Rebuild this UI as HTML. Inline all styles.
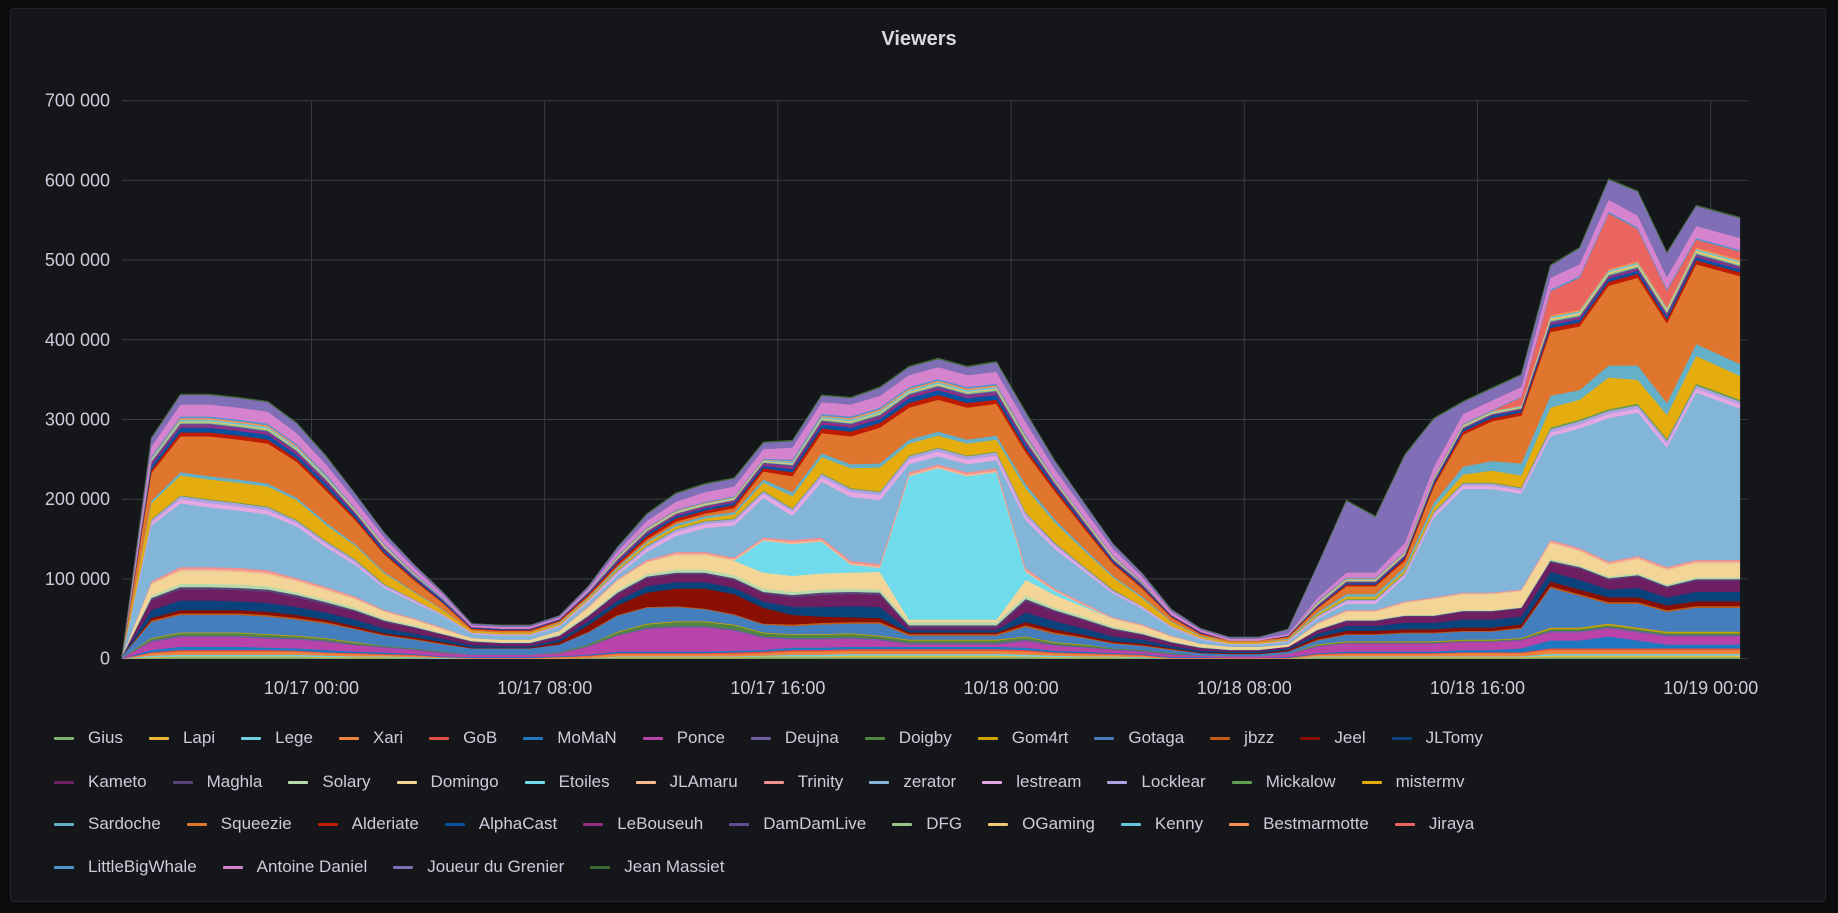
<!DOCTYPE html>
<html><head><meta charset="utf-8"><title>Viewers</title>
<style>
html,body{margin:0;padding:0;background:#0b0c0e;}
body{width:1838px;height:913px;position:relative;overflow:hidden;font-family:"Liberation Sans",sans-serif;}
#panel{position:absolute;left:10px;top:8px;width:1816px;height:894px;background:#141619;border:1px solid #24262b;border-radius:3px;box-sizing:border-box;}
#chart{position:absolute;left:0;top:0;}
.lrow{position:absolute;left:54px;display:flex;white-space:nowrap;height:24px;align-items:center;}
.li{display:flex;align-items:center;margin-right:26px;color:#ccccdc;font-size:17px;}
.dash{width:20px;height:3px;border-radius:1px;margin-right:14px;}
</style></head>
<body>
<div id="panel"></div>
<svg id="chart" width="1838" height="913">
  <text x="919" y="45" text-anchor="middle" fill="#d8d9da" font-size="20" font-weight="bold" font-family="Liberation Sans, sans-serif">Viewers</text>
  <g id="grid"></g>
  <g id="areas"></g>
  <g id="yaxis"></g>
  <g id="xaxis"></g>
</svg>
<div id="legend"></div>
<script>
const hours = [0,1,2,3,4,5,6,7,8,9,10,11,12,13,14,15,16,17,18,19,20,21,22,23,24,25,26,27,28,29,30,31,32,33,34,35,36,37,38,39,40,41,42,43,44,45,46,47,48,49,50,51,52,53,54,55.5];
const yTicks = [0,100,200,300,400,500,600,700];
const yTickLabels = ["0","100 000","200 000","300 000","400 000","500 000","600 000","700 000"];
const xTickHours = [6.5,14.5,22.5,30.5,38.5,46.5,54.5];
const xTickLabels = ["10/17 00:00","10/17 08:00","10/17 16:00","10/18 00:00","10/18 08:00","10/18 16:00","10/19 00:00"];
const seriesNames = ["Gius","Lapi","Lege","Xari","GoB","MoMaN","Ponce","Deujna","Doigby","Gom4rt","Gotaga","jbzz","Jeel","JLTomy","Kameto","Maghla","Solary","Domingo","Etoiles","JLAmaru","Trinity","zerator","lestream","Locklear","Mickalow","mistermv","Sardoche","Squeezie","Alderiate","AlphaCast","LeBouseuh","DamDamLive","DFG","OGaming","Kenny","Bestmarmotte","Jiraya","LittleBigWhale","Antoine Daniel","Joueur du Grenier","Jean Massiet"];
const seriesColors = ["#7EB26D","#EAB839","#6ED0E0","#EF843C","#E24D42","#1F78C1","#BA43A9","#705DA0","#508642","#CCA300","#447EBC","#C15C17","#890F02","#0A437C","#6D1F62","#584477","#B7DBAB","#F4D598","#70DBED","#F9BA8F","#F29191","#82B5D8","#E5A8E2","#AEA2E0","#629E51","#E5AC0E","#64B0C8","#E0752D","#BF1B00","#0A50A1","#962D82","#614D93","#9AC48A","#F2C96D","#65C5DB","#F9934E","#EA6460","#5195CE","#D683CE","#806EB7","#3F6833"];
// values in thousands of viewers
const Gius = [0,1,2,2,2,2,2,1, 1,1,1,0,0,0,0,0, 1,1,1,1,1,1,2,2, 2,2,2,2,2,2,2,2, 1,1,1,1,0,0,0,0, 0,1,1,1,1,1,1,1, 1,2,2,2,2,2,2,2];
const Lapi = [0,1,1,1,1,1,1,1, 1,1,0,0,0,0,0,0, 0,1,1,1,1,1,1,1, 1,2,2,2,2,2,2,1, 1,1,1,0,0,0,0,0, 0,1,1,1,1,1,1,1, 1,2,2,2,2,2,2,2];
const Lege = [0,2,2,2,2,2,2,2, 1,1,1,1,0,0,0,0, 0,1,1,1,1,1,1,2, 2,2,2,2,2,2,2,2, 2,1,1,1,0,0,0,0, 0,1,1,1,1,1,1,1, 1,2,2,2,2,2,2,2];
const Xari = [0,3,4,4,4,4,4,3, 3,2,2,1,1,1,1,2, 2,3,3,3,3,3,3,4, 4,4,4,4,4,4,4,4, 3,3,2,2,1,1,1,1, 1,2,3,3,3,3,4,4, 4,5,5,5,5,5,5,5];
const GoB = [0,1,2,2,2,2,1,1, 1,1,1,0,0,0,0,0, 1,1,1,1,1,2,2,2, 2,2,2,2,2,2,2,2, 1,1,1,1,0,0,0,0, 0,1,1,1,1,1,1,1, 1,2,2,2,2,2,2,2];
const MoMaN = [0,3,4,4,4,3,3,3, 2,2,1,1,1,1,1,1, 1,2,2,2,2,2,2,3, 3,3,3,3,3,3,3,3, 2,2,1,1,1,1,0,0, 1,1,2,2,2,2,3,3, 5,10,10,15,10,5,5,5];
const Ponce = [1,10,12,12,12,11,11,10, 8,6,5,4,3,3,3,4, 10,20,28,30,30,25,15,10, 10,10,8,3,3,3,3,8, 6,5,4,3,3,2,2,2, 4,8,10,10,10,10,10,10, 10,10,10,10,10,10,10,10];
const Deujna = [0,2,2,2,2,2,2,2, 1,1,1,1,0,0,0,0, 1,1,2,2,2,2,2,2, 2,2,2,2,2,2,2,2, 2,1,1,1,1,0,0,0, 0,1,1,1,1,1,1,1, 1,2,2,2,2,2,2,2];
const Doigby = [0,2,3,3,3,3,2,2, 2,1,1,1,0,0,0,1, 2,3,4,5,5,5,4,4, 4,4,3,3,3,3,3,3, 2,2,1,1,1,0,0,0, 0,1,1,1,1,1,1,1, 1,2,2,2,2,2,2,2];
const Gom4rt = [0,1,1,1,1,1,1,1, 1,0,0,0,0,0,0,0, 0,1,1,1,1,1,1,1, 1,1,1,1,1,1,1,1, 1,1,0,0,0,0,0,0, 0,1,1,1,1,1,1,1, 1,2,2,2,2,2,2,2];
const Gotaga = [2,20,22,22,22,22,20,18, 16,13,11,9,8,8,8,10, 15,20,20,18,15,12,10,10, 12,12,15,5,5,5,5,12, 10,8,6,5,4,3,3,3, 3,5,8,8,10,10,10,10, 12,50,40,25,30,25,30,30];
const jbzz = [0,2,2,2,2,2,2,2, 1,1,1,1,0,0,0,0, 1,1,1,1,1,1,1,2, 2,2,2,2,2,2,2,2, 2,1,1,1,1,0,0,0, 0,1,1,1,1,1,1,1, 1,2,2,2,2,2,2,2];
const Jeel = [0,3,4,4,4,4,4,3, 3,2,2,2,1,1,1,3, 8,12,18,22,25,25,20,12, 8,6,5,2,2,2,2,4, 4,3,2,2,1,1,1,1, 2,3,4,4,4,4,4,4, 4,6,6,6,6,6,6,6];
const JLTomy = [0,10,12,12,11,11,10,9, 8,6,5,4,3,2,2,3, 5,6,8,8,8,8,8,10, 12,14,14,3,3,3,3,12, 10,8,6,5,3,2,2,2, 2,4,6,6,8,8,10,10, 10,12,12,10,12,10,12,12];
const Kameto = [0,12,14,14,14,14,12,10, 10,8,7,5,4,3,3,4, 6,8,10,10,10,10,10,12, 15,15,15,3,3,3,3,14, 12,10,8,6,4,3,2,2, 2,4,6,6,8,8,10,10, 10,12,14,12,14,12,14,14];
const Maghla = [0,3,3,3,3,3,3,3, 2,2,1,1,1,1,1,1, 1,2,2,2,2,2,2,3, 3,3,3,3,3,3,3,3, 2,2,2,1,1,1,0,0, 0,1,1,1,1,1,1,1, 1,2,2,2,2,2,2,2];
const Solary = [0,3,4,4,4,4,3,3, 3,2,2,1,1,1,1,2, 2,3,3,4,4,4,4,4, 4,4,4,4,4,4,4,4, 3,3,2,2,1,1,1,1, 0,1,1,1,1,1,1,1, 1,2,2,2,2,2,2,2];
const Domingo = [0,14,16,16,16,15,14,12, 11,9,7,5,3,3,3,4, 8,12,15,18,18,18,20,20, 20,20,22,3,3,3,3,20, 16,12,10,8,6,4,3,3, 3,6,10,10,15,20,20,20, 20,20,18,15,18,18,18,18];
const Etoiles = [0,0,0,0,0,0,0,0, 0,0,0,0,0,0,0,0, 0,0,0,0,0,0,40,40, 40,10,5,180,190,180,185,10, 5,2,0,0,0,0,0,0, 0,0,0,0,0,0,0,0, 0,0,0,0,0,0,0,0];
const JLAmaru = [0,2,2,2,2,2,2,2, 1,1,1,1,0,0,0,0, 1,1,1,2,2,2,2,2, 2,2,2,2,2,2,2,2, 1,1,1,1,0,0,0,0, 0,1,1,1,1,1,1,1, 1,2,2,2,2,2,2,2];
const Trinity = [0,2,3,3,3,3,2,2, 2,1,1,1,0,0,0,0, 1,1,2,2,2,2,2,3, 3,3,3,3,3,3,3,3, 2,2,1,1,1,0,0,0, 0,1,1,1,1,1,1,1, 1,2,2,2,2,2,2,2];
const zerator = [0,70,80,75,72,70,65,50, 40,28,20,15,5,5,5,5, 5,5,10,20,30,40,50,30, 70,80,80,10,10,10,10,60, 50,40,30,20,10,5,3,3, 3,5,8,8,30,100,130,130, 120,130,150,180,180,150,210,190];
const lestream = [0,4,5,5,5,5,4,4, 3,2,2,1,1,1,1,1, 2,3,4,5,5,5,5,6, 6,6,6,6,6,6,6,5, 4,3,2,2,1,1,1,1, 1,2,3,3,3,4,4,4, 4,5,5,5,5,5,5,5];
const Locklear = [0,3,4,4,4,4,3,3, 3,2,2,1,1,1,1,1, 1,2,3,3,3,3,3,3, 4,4,4,4,4,4,4,4, 3,2,2,1,1,1,0,0, 1,1,2,2,2,3,3,3, 3,4,4,4,4,4,4,4];
const Mickalow = [0,1,1,1,1,1,1,1, 1,1,0,0,0,0,0,0, 0,1,1,1,1,1,1,1, 1,1,1,1,1,1,1,1, 1,1,1,0,0,0,0,0, 0,1,1,1,1,1,1,1, 1,2,2,2,2,2,2,2];
const mistermv = [0,20,25,25,25,25,25,20, 17,13,9,5,2,2,2,2, 2,2,3,3,3,5,10,15, 20,25,30,15,15,15,15,30, 25,20,15,10,5,2,2,2, 1,2,3,3,3,5,10,15, 15,25,25,40,30,30,35,30];
const Sardoche = [0,3,4,4,4,4,3,3, 2,2,1,1,0,0,0,1, 1,2,2,3,3,3,4,5, 5,5,5,5,5,5,5,5, 4,3,2,2,1,1,0,0, 1,2,3,3,4,6,10,12, 15,15,12,15,18,15,15,15];
const Squeezie = [0,35,45,50,50,50,45,40, 30,22,14,8,2,2,2,2, 2,2,3,3,3,5,10,20, 25,35,45,40,40,40,40,40, 35,25,15,10,5,2,2,2, 2,5,10,10,8,20,40,50, 60,80,80,100,110,100,100,110];
const Alderiate = [0,4,5,5,5,5,4,4, 3,2,2,1,1,1,1,1, 2,3,4,4,4,4,4,5, 6,6,6,6,6,6,5,5, 4,3,2,2,1,1,0,0, 1,1,2,2,3,3,4,4, 4,5,5,5,5,5,5,5];
const AlphaCast = [0,5,6,6,6,6,5,5, 4,3,2,2,1,1,1,1, 1,2,3,3,3,3,3,4, 5,5,5,6,6,6,6,5, 4,3,2,2,1,1,0,0, 1,1,2,2,2,3,3,3, 3,4,4,4,4,4,4,4];
const LeBouseuh = [0,3,3,3,3,3,3,3, 2,2,1,1,1,1,1,1, 1,2,2,2,2,2,2,3, 3,3,3,3,3,3,3,3, 2,2,1,1,1,1,0,0, 0,1,1,1,1,1,1,1, 1,2,2,2,2,2,2,2];
const DamDamLive = [0,2,2,2,2,2,2,2, 1,1,1,1,0,0,0,0, 1,1,1,1,1,1,2,2, 2,2,2,2,2,2,2,2, 1,1,1,1,0,0,0,0, 0,1,1,1,1,1,1,1, 1,2,2,2,2,2,2,2];
const DFG = [0,1,2,2,2,2,1,1, 1,1,1,0,0,0,0,0, 0,1,1,1,1,1,1,1, 2,2,2,2,2,2,2,1, 1,1,1,0,0,0,0,0, 0,1,1,1,1,1,1,1, 1,2,2,2,2,2,2,2];
const OGaming = [0,1,1,1,1,1,1,1, 1,1,0,0,0,0,0,0, 0,1,1,1,1,1,1,1, 1,1,1,1,1,1,1,1, 1,1,1,0,0,0,0,0, 0,1,1,1,1,1,1,1, 1,2,2,2,2,2,2,2];
const Kenny = [0,2,2,2,2,2,2,2, 1,1,1,1,0,0,0,0, 1,1,1,1,1,1,1,2, 2,2,2,2,2,2,2,2, 1,1,1,1,0,0,0,0, 0,1,1,1,1,1,1,1, 1,2,2,2,2,2,2,2];
const Bestmarmotte = [0,1,2,2,2,2,2,1, 1,1,1,0,0,0,0,0, 0,1,1,1,1,1,1,1, 1,2,2,2,2,2,2,2, 1,1,1,1,0,0,0,0, 0,1,1,1,1,1,1,1, 1,2,2,2,2,2,2,2];
const Jiraya = [0,0,0,0,0,0,0,0, 0,0,0,0,0,0,0,0, 0,0,0,0,0,0,0,0, 0,0,0,0,0,0,0,0, 0,0,0,0,0,0,0,0, 0,0,0,0,0,0,0,0, 10,30,40,70,40,20,10,10];
const LittleBigWhale = [0,2,2,2,2,2,2,2, 1,1,1,1,0,0,0,0, 0,1,1,1,1,1,1,2, 2,2,2,2,2,2,2,2, 1,1,1,1,0,0,0,0, 0,1,1,1,1,1,1,1, 1,2,2,2,2,2,2,2];
const AntoineDaniel = [0,12,15,15,15,15,14,12, 10,8,6,4,2,2,2,2, 3,5,8,10,12,12,12,15, 15,15,15,15,15,15,15,15, 12,10,8,6,4,2,2,2, 2,4,6,6,10,12,12,12, 12,15,15,15,15,15,15,15];
const JoueurDuGrenier = [0,10,12,12,12,12,12,10, 8,6,4,3,2,2,2,2, 3,5,8,10,10,10,8,8, 8,8,10,10,10,10,12,12, 10,8,6,4,3,2,2,2, 6,40,90,70,110,60,15,15, 15,15,20,25,30,30,25,25];
const JeanMassiet = [0,1,1,1,1,1,1,1, 0,0,0,0,0,0,0,0, 0,0,1,1,1,1,1,1, 1,1,1,1,1,1,1,1, 1,0,0,0,0,0,0,0, 0,0,1,1,1,1,1,1, 1,1,1,1,1,1,1,1];

const seriesValues = [Gius,Lapi,Lege,Xari,GoB,MoMaN,Ponce,Deujna,Doigby,Gom4rt,Gotaga,jbzz,Jeel,JLTomy,Kameto,Maghla,Solary,Domingo,Etoiles,JLAmaru,Trinity,zerator,lestream,Locklear,Mickalow,mistermv,Sardoche,Squeezie,Alderiate,AlphaCast,LeBouseuh,DamDamLive,DFG,OGaming,Kenny,Bestmarmotte,Jiraya,LittleBigWhale,AntoineDaniel,JoueurDuGrenier,JeanMassiet];

const NS='http://www.w3.org/2000/svg';
const X0=122, X1=1748, PXH=29.15, Y0=658.6, PXK=(658.6-100.7)/700;
function xs(h){return X0+h*PXH;}
function ys(v){return Y0-v*PXK;}
function mk(tag,attrs,parent){const e=document.createElementNS(NS,tag);for(const k in attrs)e.setAttribute(k,attrs[k]);parent.appendChild(e);return e;}

const grid=document.getElementById('grid');
yTicks.forEach((t,i)=>{
  const l=mk('line',{x1:X0,x2:X1,y1:ys(t),y2:ys(t),stroke:'#3a3c41','stroke-width':1},grid);
  
  
  const tx=mk('text',{x:110,y:ys(t)+6,'text-anchor':'end',fill:'#ccccdc','font-size':18,'font-family':'Liberation Sans, sans-serif'},document.getElementById('yaxis'));
  tx.textContent=yTickLabels[i];
  
  
});
xTickHours.forEach((h,i)=>{
  const l=mk('line',{x1:xs(h),x2:xs(h),y1:ys(700),y2:Y0,stroke:'#3a3c41','stroke-width':1},grid);
  
  
  const tx=mk('text',{x:xs(h),y:694,'text-anchor':'middle',fill:'#ccccdc','font-size':18,'font-family':'Liberation Sans, sans-serif'},document.getElementById('xaxis'));
  tx.textContent=xTickLabels[i];
  
  
});

const areas=document.getElementById('areas');
let base=hours.map(()=>0);
seriesValues.forEach((vals,s)=>{
  const top=base.map((b,i)=>b+(vals[i]||0));
  let d='M'+xs(hours[0])+','+ys(top[0]);
  for(let i=1;i<hours.length;i++)d+='L'+xs(hours[i]).toFixed(1)+','+ys(top[i]).toFixed(1);
  for(let i=hours.length-1;i>=0;i--)d+='L'+xs(hours[i]).toFixed(1)+','+ys(base[i]).toFixed(1);
  d+='Z';
  const p=mk('path',{d:d,fill:seriesColors[s],stroke:seriesColors[s],'stroke-width':0.6,'stroke-linejoin':'round'},areas);
  
  
  base=top;
});

const rows=[[0,14],[14,26],[26,37],[37,41]];
const rowTops=[726,770,812,855];
const legend=document.getElementById('legend');
rows.forEach((r,ri)=>{
  const row=document.createElement('div');
  row.className='lrow';
  row.style.top=rowTops[ri]+'px';
  
  
  for(let s=r[0];s<r[1];s++){
    const it=document.createElement('div');
    it.className='li';
    
    
    const dsh=document.createElement('div');
    dsh.className='dash';
    dsh.style.background=seriesColors[s];
    
    
    const sp=document.createElement('span');
    sp.textContent=seriesNames[s];
    
    
    it.appendChild(dsh);it.appendChild(sp);row.appendChild(it);
  }
  legend.appendChild(row);
});
</script>
</body></html>
